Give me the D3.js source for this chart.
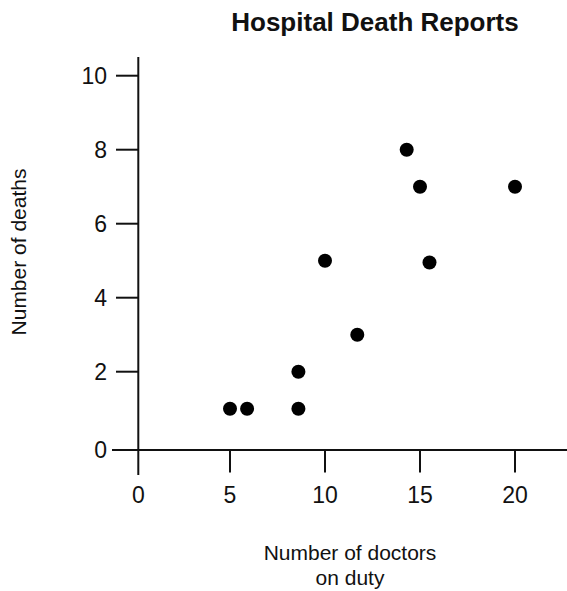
<!DOCTYPE html>
<html>
<head>
<meta charset="utf-8">
<script src="https://cdn.jsdelivr.net/npm/d3@7/dist/d3.min.js"></script>
<style>
  html, body { margin: 0; padding: 0; background: #fff; }
  svg { display: block; }
  text { font-family: "Liberation Sans", Arial, sans-serif; fill: #111; }
</style>
</head>
<body>
<div id="chart"></div>
<script>
const title = "Hospital Death Reports";
const xLabelLines = ["Number of doctors", "on duty"];
const yLabel = "Number of deaths";
const doctors = [5, 5.9, 8.6, 8.6, 10, 11.7, 14.3, 15, 15.5, 20];
const deaths  = [1, 1, 1, 2, 5, 3, 8, 7, 4.95, 7];
const xTicks = [0, 5, 10, 15, 20];
const yTicks = [0, 2, 4, 6, 8, 10];

const W = 567, H = 591;
const svg = d3.select("#chart").append("svg").attr("width", W).attr("height", H);

const x = d3.scaleLinear().domain([5, 20]).range([230, 515]);
const y = d3.scaleLinear().domain([2, 10]).range([371.7, 75.7]);

const originX = 138.3, originY = 450;

// axes lines
svg.append("line").attr("x1", originX).attr("x2", originX).attr("y1", 57).attr("y2", 475)
  .attr("stroke", "#111").attr("stroke-width", 2);
svg.append("line").attr("x1", 112).attr("x2", W).attr("y1", originY).attr("y2", originY)
  .attr("stroke", "#111").attr("stroke-width", 2);

// y ticks
const yAxis = svg.append("g");
yTicks.forEach(t => {
  const yy = t === 0 ? originY : y(t);
  if (t !== 0) {
    yAxis.append("line").attr("x1", 116).attr("x2", originX).attr("y1", yy).attr("y2", yy)
      .attr("stroke", "#111").attr("stroke-width", 2);
  }
  yAxis.append("text").attr("x", 107).attr("y", yy).attr("dy", "0.36em")
    .attr("text-anchor", "end").attr("font-size", 23).text(t);
});

// x ticks
const xAxis = svg.append("g");
xTicks.forEach(t => {
  const xx = t === 0 ? originX : x(t);
  if (t !== 0) {
    xAxis.append("line").attr("x1", xx).attr("x2", xx).attr("y1", originY).attr("y2", 472.5)
      .attr("stroke", "#111").attr("stroke-width", 2);
  }
  xAxis.append("text").attr("x", xx).attr("y", 503)
    .attr("text-anchor", "middle").attr("font-size", 23).text(t);
});

// points
svg.append("g").selectAll("circle")
  .data(doctors.map((d, i) => [d, deaths[i]]))
  .join("circle")
  .attr("cx", d => x(d[0]))
  .attr("cy", d => y(d[1]))
  .attr("r", 7)
  .attr("fill", "#000");

// title
svg.append("text").attr("x", 375).attr("y", 31).attr("text-anchor", "middle")
  .attr("font-size", 26).attr("font-weight", "bold").text(title);

// x label
const xl = svg.append("text").attr("text-anchor", "middle").attr("font-size", 21);
xLabelLines.forEach((l, i) => {
  xl.append("tspan").attr("x", 350).attr("y", 560 + i * 25).text(l);
});

// y label
svg.append("text").attr("transform", "translate(26,252) rotate(-90)")
  .attr("text-anchor", "middle").attr("font-size", 21).text(yLabel);
</script>
</body>
</html>
